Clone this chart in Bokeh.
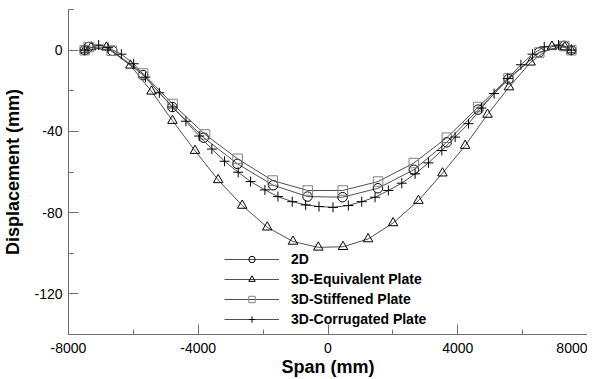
from bokeh.plotting import figure
from bokeh.models import Range1d, SingleIntervalTicker, Legend, LegendItem, CustomJSTickFormatter
from bokeh.embed import file_html
from bokeh.resources import INLINE

# ---- data ----
x_2d = [-7500, -7380, -6650, -5700, -4800, -3830, -2790, -1690, -630, 450, 1540, 2645, 3660, 4630, 5565, 6510, 7280, 7500]
y_2d = [0, 1.5, -0.3, -12.3, -28.0, -43.1, -56.0, -66.5, -72.1, -72.4, -68.0, -58.9, -45.4, -29.3, -14.3, -1.1, 2.1, 0]

x_eq = [-7500, -7300, -6830, -6090, -5440, -4795, -4100, -3386, -2645, -1873, -1080, -299, 463, 1235, 2006, 2787, 3528, 4228, 4917, 5580, 6245, 6904, 7300, 7500]
y_eq = [0, 1.5, 1.4, -7.5, -20.3, -34.7, -49.5, -63.9, -76.5, -87.2, -94.2, -97.1, -96.8, -93.0, -85.1, -74.1, -60.6, -47.0, -31.7, -18.2, -6.0, 1.8, 1.5, 0]

x_st = [-7500, -7380, -6670, -5700, -4790, -3790, -2787, -1707, -627, 454, 1543, 2645, 3664, 4630, 5565, 6512, 7284, 7500]
y_st = [0, 1.5, -0.3, -11.5, -26.5, -41.5, -53.5, -64.2, -69.1, -69.1, -64.7, -55.6, -43.1, -28.0, -13.8, -1.2, 2.0, 0]

x_co = [-7500, -7070, -6780, -6370, -5990, -5627, -5200, -4790, -4380, -3970, -3580, -3188, -2769, -2386, -1944, -1543,
        -1102, -688, -278, 154, 627, 1040, 1451, 1861, 2275, 2685, 3096, 3509, 3920, 4330, 4730, 5120, 5540, 5947,
        6305, 6667, 7108, 7500]
y_co = [0, 2.5, 1.2, -2.0, -6.7, -13.3, -21.0, -28.0, -35.0, -42.3, -48.7, -54.7, -60.1, -64.7, -68.8, -72.1,
        -74.6, -76.2, -77.0, -77.4, -76.5, -74.6, -72.4, -69.1, -65.5, -60.9, -55.5, -49.4, -42.8, -36.2, -28.5, -21.4, -14.0, -7.2,
        -2.0, 1.6, 2.5, 0]

series_labels = ["2D", "3D-Equivalent Plate", "3D-Stiffened Plate", "3D-Corrugated Plate"]

FONT = "Liberation Sans"

p = figure(frame_width=519, frame_height=325, output_backend="svg", toolbar_location=None,
           x_range=Range1d(-8000, 8000), y_range=Range1d(-140, 20),
           min_border_left=0, min_border_right=0, min_border_top=9, min_border_bottom=0)
p.outline_line_color = None
p.xgrid.visible = False
p.ygrid.visible = False
p.background_fill_color = "white"

p.xaxis.ticker = SingleIntervalTicker(interval=4000, num_minor_ticks=2)
p.yaxis.ticker = SingleIntervalTicker(interval=40, num_minor_ticks=2)
fmt = CustomJSTickFormatter(code="return String(tick);")
for ax in (p.xaxis, p.yaxis):
    ax.formatter = fmt
    ax.axis_line_color = "#707070"
    ax.major_tick_line_color = "#707070"
    ax.minor_tick_line_color = "#707070"
    ax.major_tick_in = 10
    ax.major_tick_out = 0
    ax.minor_tick_in = 5
    ax.minor_tick_out = 0
    ax.major_label_text_font = FONT
    ax.major_label_text_font_size = "14px"
    ax.major_label_text_color = "black"
    ax.axis_label_text_font = FONT
    ax.axis_label_text_font_size = "18px"
    ax.axis_label_text_font_style = "bold"
    ax.axis_label_text_color = "black"
p.xaxis.axis_label = "Span (mm)"
p.yaxis.axis_label = "Displacement (mm)"
p.xaxis.major_label_standoff = 8
p.xaxis.axis_label_standoff = 1
p.yaxis.major_label_standoff = 6
p.yaxis.axis_label_standoff = 8
p.yaxis.major_label_orientation = "horizontal"

LINE = "#505050"
items = []
specs = [
    (x_2d, y_2d, "circle", "black"),
    (x_eq, y_eq, "triangle", "black"),
    (x_st, y_st, "square", "#808080"),
    (x_co, y_co, "cross", "black"),
]
for (xs, ys, mk, col), lab in zip(specs, series_labels):
    ln = p.line(xs, ys, line_color=LINE, line_width=1)
    sc = p.scatter(xs, ys, marker=mk, size=9.5 if mk != "cross" else 10,
                   line_color=col, fill_alpha=0, line_width=1)
    items.append(LegendItem(label=lab, renderers=[ln, sc]))

legend = Legend(items=items, location=(156, 7), orientation="vertical")
legend.border_line_color = None
legend.background_fill_alpha = 0
legend.padding = 0
legend.margin = 0
legend.spacing = 4
legend.glyph_width = 55
legend.glyph_height = 16
legend.label_height = 16
legend.label_standoff = 12
legend.label_text_font = FONT
legend.label_text_font_size = "14px"
legend.label_text_font_style = "bold"
legend.label_text_color = "black"
p.add_layout(legend, "center")

open("out.html", "w").write(file_html(p, INLINE))
